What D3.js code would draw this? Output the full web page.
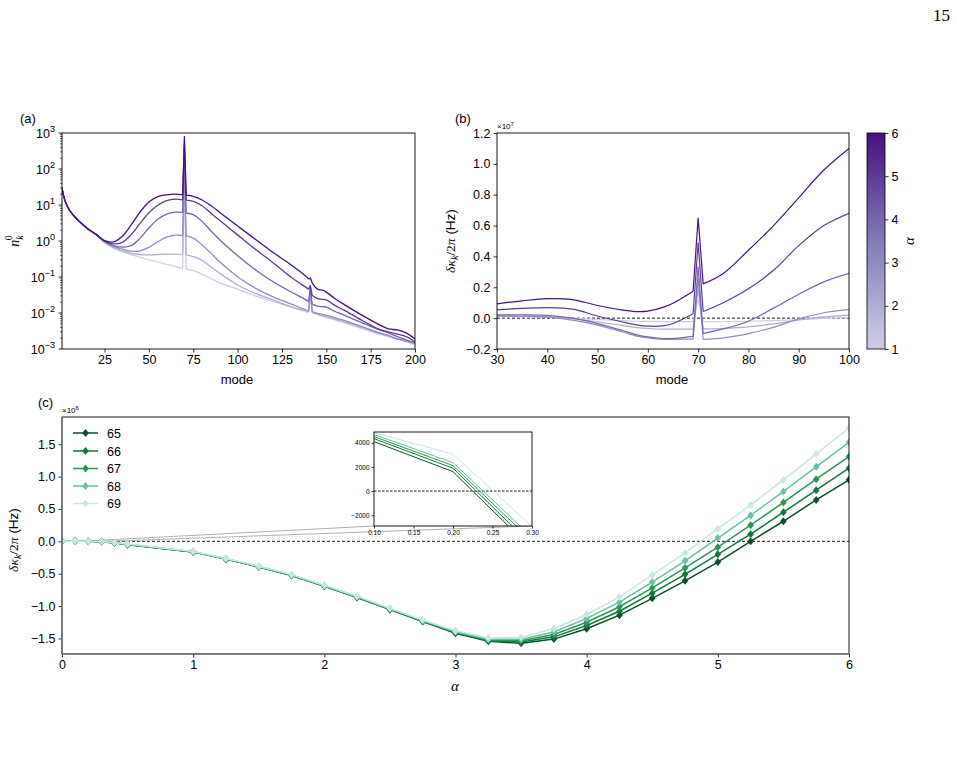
<!DOCTYPE html>
<html>
<head>
<meta charset="utf-8">
<script src="https://cdn.jsdelivr.net/npm/d3@7"></script>
<style>
  body { margin: 0; background: #fff; }
  svg { font-family: "Liberation Sans", Arial, Helvetica, sans-serif; }
</style>
</head>
<body>
<svg id="fig" width="957" height="757"></svg>
<script>
// ---------- panel (a): n_k^0 vs mode, one curve per alpha ----------
const modesA = [1, 2, 3, 5, 7, 10, 13, 16, 20, 25, 30, 35, 40, 45, 50, 55, 60, 65, 69, 70, 71, 75, 80, 85, 90,
  100, 110, 120, 130, 138, 140, 141, 142, 145, 148, 150, 155, 160, 170, 180, 185, 190, 195, 200];
const nA1 = [30, 17, 12, 7.5, 5.5, 3.8, 2.8, 2.1, 1.55, 0.9, 0.63, 0.5, 0.42, 0.35, 0.3, 0.26, 0.225, 0.195, 0.17, 40, 0.165,
  0.15, 0.12, 0.091, 0.069, 0.046, 0.03, 0.021, 0.0145, 0.011, 0.0105, 0.04, 0.0102, 0.009, 0.0081, 0.0076, 0.0064, 0.0054,
  0.0037, 0.0026, 0.0022, 0.0019, 0.0016, 0.0013];
const nA2 = [30, 17, 12, 7.5, 5.5, 3.8, 2.8, 2.1, 1.55, 0.93, 0.66, 0.54, 0.45, 0.42, 0.41, 0.42, 0.43, 0.43, 0.42, 80, 0.41,
  0.37, 0.29, 0.19, 0.126, 0.06, 0.035, 0.023, 0.015, 0.0118, 0.011, 0.045, 0.0105, 0.0093, 0.0084, 0.0079, 0.0068, 0.0058,
  0.004, 0.0027, 0.0023, 0.0019, 0.0016, 0.0014];
const nA3 = [30, 17, 12, 7.5, 5.5, 3.8, 2.8, 2.1, 1.55, 0.95, 0.7, 0.6, 0.52, 0.53, 0.67, 0.95, 1.28, 1.45, 1.42, 150, 1.38,
  1.2, 0.78, 0.46, 0.26, 0.102, 0.049, 0.028, 0.018, 0.0125, 0.0115, 0.048, 0.011, 0.0098, 0.0092, 0.0087, 0.0073, 0.0062,
  0.0042, 0.0028, 0.0024, 0.0019, 0.0017, 0.00145];
const nA4 = [30, 17, 12, 7.5, 5.5, 3.8, 2.8, 2.1, 1.55, 0.98, 0.75, 0.68, 0.74, 1.2, 2.3, 4.0, 5.6, 6.3, 6.2, 300, 6.0,
  5.4, 3.5, 1.9, 1.07, 0.39, 0.16, 0.074, 0.039, 0.024, 0.021, 0.052, 0.018, 0.0155, 0.015, 0.0145, 0.011, 0.0087,
  0.0054, 0.0034, 0.0028, 0.0022, 0.0018, 0.0015];
const nA5 = [30, 17, 12, 7.5, 5.5, 3.8, 2.8, 2.1, 1.55, 1.0, 0.83, 0.92, 1.5, 3.1, 6.1, 9.8, 13.2, 14.5, 13.9, 500, 13.6,
  12.6, 9.5, 5.9, 3.7, 1.48, 0.59, 0.25, 0.1, 0.054, 0.046, 0.058, 0.031, 0.025, 0.024, 0.023, 0.016, 0.012,
  0.0063, 0.0035, 0.003, 0.0026, 0.0022, 0.0016];
const nA6 = [30, 17, 12, 7.5, 5.5, 3.8, 2.8, 2.1, 1.55, 1.02, 0.94, 1.36, 2.8, 6.4, 12.2, 17.0, 19.2, 20, 19.3, 800, 18.8,
  17.4, 13.8, 9.5, 6.2, 2.6, 1.12, 0.48, 0.22, 0.11, 0.087, 0.094, 0.07, 0.046, 0.043, 0.038, 0.025, 0.0174,
  0.0087, 0.0047, 0.0036, 0.0034, 0.0028, 0.0019];
const spikesA = [70, 141];

// ---------- panel (b): delta kappa / 2pi in units of 1e7 Hz ----------
const modesB = [30, 35, 40, 45, 50, 55, 58, 60, 63, 65, 69, 70, 71, 75, 80, 85, 90, 95, 100];
const dkB1 = [0.011, 0.01, 0.007, 0.0, -0.009, -0.016, -0.02, -0.021, -0.022, -0.022, -0.023, 0.12, -0.023, -0.022, -0.02, -0.016, -0.01, -0.002, 0.004];
const dkB2 = [0.013, 0.012, 0.008, -0.004, -0.024, -0.048, -0.062, -0.067, -0.071, -0.071, -0.071, 0.19, -0.07, -0.066, -0.056, -0.037, -0.012, 0.008, 0.02];
const dkB3 = [0.015, 0.013, 0.006, -0.013, -0.045, -0.09, -0.118, -0.128, -0.137, -0.137, -0.136, 0.26, -0.138, -0.128, -0.1, -0.06, -0.005, 0.035, 0.057];
const dkB4 = [0.021, 0.022, 0.018, 0.0, -0.035, -0.08, -0.11, -0.122, -0.132, -0.132, -0.118, 0.335, -0.1, -0.07, -0.02, 0.065, 0.155, 0.235, 0.29];
const dkB5 = [0.054, 0.063, 0.068, 0.058, 0.014, -0.025, -0.045, -0.052, -0.05, -0.035, 0.028, 0.49, 0.043, 0.1, 0.19, 0.31, 0.47, 0.6, 0.68];
const dkB6 = [0.093, 0.112, 0.126, 0.12, 0.082, 0.052, 0.042, 0.045, 0.07, 0.097, 0.175, 0.65, 0.222, 0.29, 0.44, 0.6, 0.78, 0.96, 1.1];
const spikesB = [70];
const alphas = [1, 2, 3, 4, 5, 6];

// ---------- panel (c): delta kappa / 2pi (Hz) vs alpha, modes 65..69 ----------
const alphaC = [0, 0.1, 0.2, 0.3, 0.4, 0.5, 1.0, 1.25, 1.5, 1.75, 2.0, 2.25, 2.5, 2.75, 3.0, 3.25, 3.5, 3.75,
  4.0, 4.25, 4.5, 4.75, 5.0, 5.25, 5.5, 5.75, 6.0];
const dk65 = [0, 4100, 1610, -4830, -24000, -52000, -165000, -275000, -395000, -528000, -695000, -868000, -1055000,
  -1240000, -1420000, -1545000, -1575000, -1510000, -1350000, -1140000, -880000, -610000, -320000, 0, 310000, 640000, 950000];
const dk66 = [0, 4350, 1890, -4500, -23000, -50000, -163000, -273000, -393000, -525000, -692000, -865000, -1051000,
  -1235000, -1412000, -1535000, -1555000, -1475000, -1300000, -1080000, -800000, -510000, -200000, 110000, 450000, 790000, 1130000];
const dk67 = [0, 4520, 2110, -4150, -22000, -48000, -161000, -271000, -391000, -522000, -689000, -861000, -1047000,
  -1230000, -1404000, -1525000, -1535000, -1440000, -1250000, -1010000, -720000, -410000, -90000, 250000, 600000, 960000, 1310000];
const dk68 = [0, 4690, 2360, -3830, -21000, -46000, -159000, -269000, -388000, -519000, -686000, -857000, -1042000,
  -1224000, -1395000, -1512000, -1512000, -1400000, -1190000, -940000, -630000, -300000, 50000, 400000, 770000, 1150000, 1530000];
const dk69 = [0, 4860, 3060, -2950, -19000, -43000, -156000, -265000, -384000, -514000, -680000, -850000, -1035000,
  -1215000, -1380000, -1492000, -1480000, -1350000, -1130000, -860000, -520000, -180000, 195000, 560000, 950000, 1350000, 1750000];
const modesC = ["65", "66", "67", "68", "69"];
const colorsC = ["#0b4f2a", "#0d7a3c", "#2c9656", "#66c2a4", "#c6e9df"];

const ticksA_x = [25, 50, 75, 100, 125, 150, 175, 200];
const ticksB_x = [30, 40, 50, 60, 70, 80, 90, 100];
const ticksB_y = [-0.2, 0.0, 0.2, 0.4, 0.6, 0.8, 1.0, 1.2];
const ticksC_y = [-1.5e6, -1.0e6, -0.5e6, 0, 0.5e6, 1.0e6, 1.5e6];
const ticksI_x = [0.1, 0.15, 0.2, 0.25, 0.3];
const ticksI_y = [-2000, 0, 2000, 4000];

// ---------- drawing ----------
const svg = d3.select("#fig");
const FS = 12.5;
const serif = "'Liberation Serif', 'DejaVu Serif', serif";
const purple = (a) => d3.interpolatePurples(0.3 + ((a - 1) / 5) * 0.65);

const styleAxis = (g, fs) => {
  g.select(".domain").remove();
  g.selectAll(".tick line").attr("stroke", "#000").attr("stroke-width", 0.8);
  g.selectAll(".tick text").attr("font-size", fs).attr("fill", "#000");
};

const frame = (x0, y0, x1, y1) =>
  svg.append("rect").attr("x", x0).attr("y", y0).attr("width", x1 - x0).attr("height", y1 - y0)
    .attr("fill", "none").attr("stroke", "#000").attr("stroke-width", 0.9);

const clip = (id, x0, y0, x1, y1) =>
  svg.append("clipPath").attr("id", id).append("rect")
    .attr("x", x0).attr("y", y0).attr("width", x1 - x0).attr("height", y1 - y0);

// smooth curve, but straight lines through the narrow resonance spikes
const spikyPath = (pts, spikes, x, y) => {
  const smooth = d3.line().x((d) => x(d[0])).y((d) => y(d[1])).curve(d3.curveCatmullRom.alpha(0.5));
  const straight = d3.line().x((d) => x(d[0])).y((d) => y(d[1]));
  let out = "", start = 0;
  spikes.forEach((s) => {
    const c = pts.findIndex((p) => p[0] === s);
    out += smooth(pts.slice(start, c)) + straight(pts.slice(c - 1, c + 2));
    start = c + 1;
  });
  return out + smooth(pts.slice(start));
};

// page number
svg.append("text").attr("x", 950).attr("y", 21).attr("text-anchor", "end")
  .attr("font-family", serif).attr("font-size", 17).text("15");

// ===== (a) =====
const xA = d3.scaleLinear().domain([1, 200]).range([62, 415]);
const yA = d3.scaleLog().domain([1e-3, 1e3]).range([349, 133]);
clip("clipA", 62, 133, 415, 349);

[nA1, nA2, nA3, nA4, nA5, nA6].forEach((vals, i) => {
  svg.append("path")
    .attr("clip-path", "url(#clipA)")
    .attr("d", spikyPath(modesA.map((m, j) => [m, vals[j]]), spikesA, xA, yA))
    .attr("fill", "none").attr("stroke", purple(alphas[i])).attr("stroke-width", 1.3)
    .attr("stroke-linejoin", "round");
});

svg.append("g").attr("transform", "translate(0,349)")
  .call(d3.axisBottom(xA).tickValues(ticksA_x).tickSize(3.5).tickPadding(3).tickFormat(d3.format("d")))
  .call((g) => styleAxis(g, FS));

// log y axis: minor ticks and 10^k labels
const gA = svg.append("g");
for (let k = -3; k < 3; k++) {
  for (let m = 2; m < 10; m++) {
    const y = yA(m * Math.pow(10, k));
    gA.append("line").attr("x1", 62).attr("x2", 60).attr("y1", y).attr("y2", y)
      .attr("stroke", "#000").attr("stroke-width", 0.6);
  }
}
d3.range(-3, 4).forEach((k) => {
  const y = yA(Math.pow(10, k));
  gA.append("line").attr("x1", 62).attr("x2", 58.5).attr("y1", y).attr("y2", y)
    .attr("stroke", "#000").attr("stroke-width", 0.8);
  const t = gA.append("text").attr("x", 55).attr("y", y + 4.5).attr("text-anchor", "end").attr("font-size", FS);
  t.append("tspan").text("10");
  t.append("tspan").attr("dy", -5.5).attr("font-size", 9).text(k < 0 ? "\u2212" + -k : k);
});
frame(62, 133, 415, 349);

svg.append("text").attr("x", 237).attr("y", 384).attr("text-anchor", "middle").attr("font-size", 13).text("mode");
const labA = svg.append("text").attr("transform", "translate(19,241) rotate(-90)")
  .attr("text-anchor", "middle").attr("font-size", 14).attr("font-family", serif);
labA.append("tspan").attr("font-style", "italic").text("n");
labA.append("tspan").attr("font-size", 10).attr("dy", 4).attr("font-style", "italic").text("k");
labA.append("tspan").attr("font-size", 10).attr("dx", -5).attr("dy", -11).text("0");
svg.append("text").attr("x", 20).attr("y", 123).attr("font-size", 13).text("(a)");

// ===== (b) =====
const xB = d3.scaleLinear().domain([30, 100]).range([497, 849]);
const yB = d3.scaleLinear().domain([-0.2, 1.2]).range([349, 133]);
clip("clipB", 497, 133, 849, 349);

svg.append("line").attr("x1", 497).attr("x2", 849).attr("y1", yB(0)).attr("y2", yB(0))
  .attr("stroke", "#000").attr("stroke-width", 0.9).attr("stroke-dasharray", "3,2");

[dkB1, dkB2, dkB3, dkB4, dkB5, dkB6].forEach((vals, i) => {
  svg.append("path")
    .attr("clip-path", "url(#clipB)")
    .attr("d", spikyPath(modesB.map((m, j) => [m, vals[j]]), spikesB, xB, yB))
    .attr("fill", "none").attr("stroke", purple(alphas[i])).attr("stroke-width", 1.2);
});

svg.append("g").attr("transform", "translate(0,349)")
  .call(d3.axisBottom(xB).tickValues(ticksB_x).tickSize(3.5).tickPadding(3).tickFormat(d3.format("d")))
  .call((g) => styleAxis(g, FS));
svg.append("g").attr("transform", "translate(497,0)")
  .call(d3.axisLeft(yB).tickValues(ticksB_y).tickSize(3.5).tickPadding(3).tickFormat(d3.format(".1f")))
  .call((g) => styleAxis(g, FS));
frame(497, 133, 849, 349);

const offB = svg.append("text").attr("x", 497).attr("y", 129).attr("font-size", 8);
offB.append("tspan").text("\u00d710");
offB.append("tspan").attr("dy", -3.5).attr("font-size", 6).text("7");

svg.append("text").attr("x", 672).attr("y", 384).attr("text-anchor", "middle").attr("font-size", 13).text("mode");

const kappaLabel = (x, y) => {
  const t = svg.append("text").attr("transform", `translate(${x},${y}) rotate(-90)`)
    .attr("text-anchor", "middle").attr("font-size", 13.5);
  t.append("tspan").attr("font-family", serif).attr("font-style", "italic").text("\u03b4\u03ba");
  t.append("tspan").attr("font-family", serif).attr("font-style", "italic").attr("font-size", 10).attr("dy", 3).text("k");
  t.append("tspan").attr("font-family", serif).attr("dy", -3).text("/2");
  t.append("tspan").attr("font-family", serif).attr("font-style", "italic").text("\u03c0");
  t.append("tspan").text(" (Hz)");
};
kappaLabel(455, 241);
svg.append("text").attr("x", 455).attr("y", 123).attr("font-size", 13).text("(b)");

// colorbar
const cbScale = d3.scaleLinear().domain([1, 6]).range([349, 133]);
const grad = svg.append("defs").append("linearGradient").attr("id", "cbGrad")
  .attr("x1", 0).attr("y1", 1).attr("x2", 0).attr("y2", 0);
d3.range(0, 1.0001, 0.1).forEach((t) => {
  grad.append("stop").attr("offset", t).attr("stop-color", purple(1 + 5 * t));
});
svg.append("rect").attr("x", 867).attr("y", 133).attr("width", 18).attr("height", 216)
  .attr("fill", "url(#cbGrad)").attr("stroke", "#000").attr("stroke-width", 0.8);
svg.append("g").attr("transform", "translate(885,0)")
  .call(d3.axisRight(cbScale).tickValues(alphas).tickSize(3.5).tickPadding(3).tickFormat(d3.format("d")))
  .call((g) => styleAxis(g, FS));
svg.append("text").attr("transform", "translate(914,241) rotate(-90)").attr("text-anchor", "middle")
  .attr("font-family", serif).attr("font-style", "italic").attr("font-size", 15).text("\u03b1");

// ===== (c) =====
const xC = d3.scaleLinear().domain([0, 6]).range([62, 849]);
const yC = d3.scaleLinear().domain([-1.74e6, 1.92e6]).range([654, 417]);
clip("clipC", 62, 417, 849, 654);

svg.append("line").attr("x1", 62).attr("x2", 849).attr("y1", yC(0)).attr("y2", yC(0))
  .attr("stroke", "#000").attr("stroke-width", 0.9).attr("stroke-dasharray", "3,2");

// inset geometry
const xI = d3.scaleLinear().domain([0.1, 0.3]).range([374, 532]);
const yI = d3.scaleLinear().domain([-2900, 4900]).range([526, 432]);

// zoom region and connectors
svg.append("rect").attr("x", xC(0.1)).attr("y", yC(4900)).attr("width", xC(0.3) - xC(0.1))
  .attr("height", yC(-2900) - yC(4900)).attr("fill", "none").attr("stroke", "#aaa").attr("stroke-width", 0.8);
svg.append("line").attr("x1", xC(0.1)).attr("y1", yC(-2900)).attr("x2", 374).attr("y2", 526)
  .attr("stroke", "#b0b0b0").attr("stroke-width", 1);
svg.append("line").attr("x1", xC(0.3)).attr("y1", yC(-2900)).attr("x2", 532).attr("y2", 526)
  .attr("stroke", "#b0b0b0").attr("stroke-width", 1);

const seriesC = [dk65, dk66, dk67, dk68, dk69];
const lineC = d3.line().x((d) => xC(d[0])).y((d) => yC(d[1]));
const diamond = "M0,-4L3.3,0L0,4L-3.3,0Z";
seriesC.forEach((vals, i) => {
  const pts = alphaC.map((a, j) => [a, vals[j]]);
  const g = svg.append("g").attr("clip-path", "url(#clipC)");
  g.append("path").attr("d", lineC(pts)).attr("fill", "none")
    .attr("stroke", colorsC[i]).attr("stroke-width", 1.5);
  g.selectAll("path.mk").data(pts).join("path").attr("class", "mk")
    .attr("transform", (d) => `translate(${xC(d[0])},${yC(d[1])})`)
    .attr("d", diamond).attr("fill", colorsC[i]);
});

svg.append("g").attr("transform", "translate(0,654)")
  .call(d3.axisBottom(xC).ticks(6).tickSize(3.5).tickPadding(3).tickFormat(d3.format("d")))
  .call((g) => styleAxis(g, FS));
svg.append("g").attr("transform", "translate(62,0)")
  .call(d3.axisLeft(yC).tickValues(ticksC_y).tickSize(3.5).tickPadding(3).tickFormat((d) => d3.format(".1f")(d / 1e6)))
  .call((g) => styleAxis(g, FS));
frame(62, 417, 849, 654);
svg.append("line").attr("x1", 62).attr("x2", 62).attr("y1", 417).attr("y2", 654)
  .attr("stroke", "#777").attr("stroke-width", 1.6);
svg.append("line").attr("x1", 62).attr("x2", 849).attr("y1", 654).attr("y2", 654)
  .attr("stroke", "#777").attr("stroke-width", 1.6);

const offC = svg.append("text").attr("x", 62).attr("y", 413).attr("font-size", 8);
offC.append("tspan").text("\u00d710");
offC.append("tspan").attr("dy", -3.5).attr("font-size", 6).text("6");

svg.append("text").attr("x", 455).attr("y", 691).attr("text-anchor", "middle")
  .attr("font-family", serif).attr("font-style", "italic").attr("font-size", 15).text("\u03b1");
kappaLabel(18, 540);
svg.append("text").attr("x", 38).attr("y", 407).attr("font-size", 13).text("(c)");

// legend
const legY = [433, 451, 468.5, 486, 503.5];
modesC.forEach((m, i) => {
  svg.append("line").attr("x1", 73).attr("x2", 98).attr("y1", legY[i]).attr("y2", legY[i])
    .attr("stroke", colorsC[i]).attr("stroke-width", 1.5);
  svg.append("path").attr("transform", `translate(85.5,${legY[i]})`).attr("d", diamond).attr("fill", colorsC[i]);
  svg.append("text").attr("x", 107).attr("y", legY[i] + 4.5).attr("font-size", FS).text(m);
});

// inset
svg.append("rect").attr("x", 374).attr("y", 432).attr("width", 158).attr("height", 94).attr("fill", "#fff");
clip("clipI", 374, 432, 532, 526);
svg.append("line").attr("x1", 374).attr("x2", 532).attr("y1", yI(0)).attr("y2", yI(0))
  .attr("stroke", "#000").attr("stroke-width", 0.9).attr("stroke-dasharray", "2.5,1.5");
const lineI = d3.line().x((d) => xI(d[0])).y((d) => yI(d[1]));
seriesC.forEach((vals, i) => {
  svg.append("path").attr("clip-path", "url(#clipI)")
    .attr("d", lineI(alphaC.map((a, j) => [a, vals[j]])))
    .attr("fill", "none").attr("stroke", colorsC[i]).attr("stroke-width", 1);
});
svg.append("g").attr("transform", "translate(0,526)")
  .call(d3.axisBottom(xI).tickValues(ticksI_x).tickSize(2.5).tickPadding(2).tickFormat(d3.format(".2f")))
  .call((g) => styleAxis(g, 6.5));
svg.append("g").attr("transform", "translate(374,0)")
  .call(d3.axisLeft(yI).tickValues(ticksI_y).tickSize(2.5).tickPadding(2).tickFormat(d3.format("d")))
  .call((g) => styleAxis(g, 6.5));
frame(374, 432, 532, 526);
</script>
</body>
</html>
